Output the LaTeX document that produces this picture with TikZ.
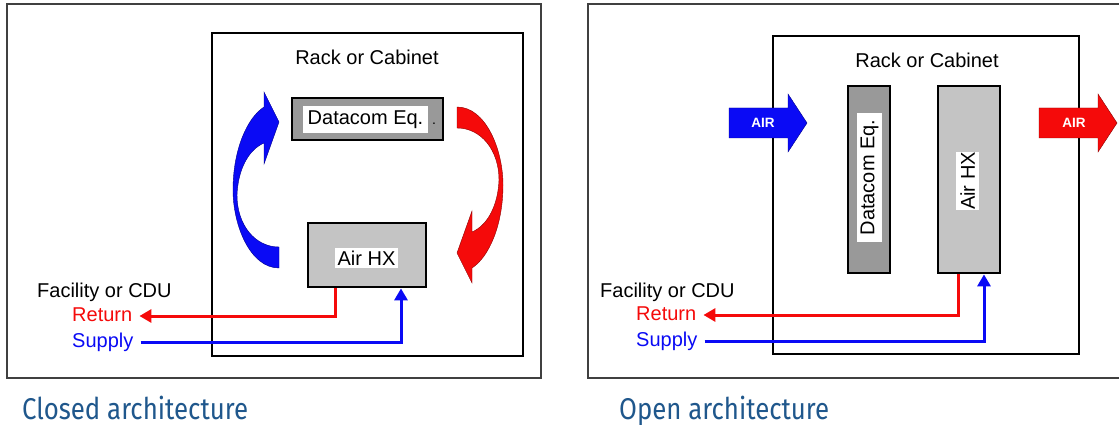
\documentclass[tikz,border=0pt]{standalone}
\usepackage{fontspec}
\setmainfont{Liberation Sans}
\newfontfamily\capfont[FakeStretch=0.86]{Fira Sans}
\usetikzlibrary{arrows.meta,calc}
\definecolor{capblue}{RGB}{31,87,140}
\definecolor{hxgray}{RGB}{196,196,196}
\definecolor{dcgray}{RGB}{153,153,153}
\definecolor{arrblue}{RGB}{10,10,245}
\definecolor{arrred}{RGB}{245,10,10}
\newcommand{\curvedarrowpath}{(279,268) .. controls (250,268) and (233,225) .. (233,190) .. controls (233,150) and (247,118) .. (264,107) -- (264,92) -- (279,122) -- (264,164) -- (264,143) .. controls (248,150) and (238,170) .. (237,195) .. controls (237,225) and (255,247) .. (279,247) -- cycle}
\begin{document}
\begin{tikzpicture}[x=1pt,y=-1pt,
  frame/.style={draw=black!75, line width=1.3pt},
  rackbox/.style={draw=black, line width=2.5pt, inner sep=0pt},
  box/.style={draw=black, line width=2.8pt, inner sep=0pt},
  lbl/.style={fill=white, inner sep=0pt, font=\fontsize{20}{22}\selectfont},
  txt/.style={inner sep=0pt, font=\fontsize{20}{22}\selectfont, text height=14.5pt, text depth=4pt, anchor=west},
  pipe/.style={line width=3pt, -{Triangle[length=12pt,width=13pt]}},
  captxt/.style={font=\capfont\fontsize{30}{32}\selectfont, text=capblue, anchor=base west, inner sep=0pt, text depth=0pt},
  airtxt/.style={font=\bfseries\fontsize{13.5}{15}\selectfont, text=white, inner sep=0pt}
]
\useasboundingbox (0,0) rectangle (1119,425);
\fill[white] (0,0) rectangle (1119,425);

% ---------------- Left panel: closed architecture
\draw[frame] (7,4) rectangle (541,378);
\node[rackbox, minimum width=311pt, minimum height=323pt] (rackL) at (367.5,194.5) {};
\node[txt, anchor=center] (rackLt) at (367,59) {Rack or Cabinet};
\node[box, fill=dcgray, minimum width=151pt, minimum height=42pt] (dcL) at (367.5,119) {};
\node[lbl, minimum width=125pt, minimum height=27pt] (dcLt) at (365.5,119.5) {Datacom Eq.};
\node[inner sep=0pt, font=\fontsize{14}{14}\selectfont] (dcLdot) at (434,124) {.};
\node[box, fill=hxgray, minimum width=118pt, minimum height=64pt] (hxL) at (367,255) {};
\node[lbl, minimum width=63pt, minimum height=20pt] (hxLt) at (366.5,258) {Air HX};

\fill[arrblue, draw=blue!55!black, line width=0.4pt] \curvedarrowpath;
\fill[arrred, draw=red!55!black, line width=0.4pt, rotate around={180:(368,187.5)}] \curvedarrowpath;

\node[txt] (facL) at (37,292) {Facility or CDU};
\node[txt, text=arrred] (retL) at (72,316) {Return};
\node[txt, text=arrblue] (supL) at (72,342) {Supply};
\draw[pipe, arrred] ([xshift=-32pt]hxL.south) |- ([xshift=7pt]retL.east);
\draw[pipe, arrblue] ([xshift=7pt]supL.east) -| ([xshift=34pt]hxL.south);

\node[captxt] (capL) at (22,419) {Closed architecture};

% ---------------- Right panel: open architecture
\draw[frame] (588,4) rectangle (1135,378);
\node[rackbox, minimum width=306pt, minimum height=318pt] (rackR) at (926,195) {};
\node[txt, anchor=center] (rackRt) at (927,62) {Rack or Cabinet};
\node[box, fill=dcgray, minimum width=42pt, minimum height=187pt] (dcR) at (869,179.5) {};
\node[lbl, rotate=90, minimum width=129pt, minimum height=25pt] (dcRt) at (869.5,177.5) {Datacom Eq.};
\node[box, fill=hxgray, minimum width=62pt, minimum height=187pt] (hxR) at (969,179.5) {};
\node[lbl, rotate=90, minimum width=58pt, minimum height=23pt] (hxRt) at (967.5,181) {Air HX};

\fill[arrblue, draw=blue!55!black, line width=0.4pt] (729,108) -- (788,108) -- (788,94) -- (807,123) -- (788,152) -- (788,138) -- (729,138) -- cycle;
\node[airtxt] (airL) at (763,123) {AIR};
\fill[arrred, draw=red!55!black, line width=0.4pt] (1039,108) -- (1098,108) -- (1098,94) -- (1117,123) -- (1098,152) -- (1098,138) -- (1039,138) -- cycle;
\node[airtxt] (airR) at (1074,123) {AIR};

\node[txt] (facR) at (600,292) {Facility or CDU};
\node[txt, text=arrred] (retR) at (636,315) {Return};
\node[txt, text=arrblue] (supR) at (636,341) {Supply};
\draw[pipe, arrred] ([xshift=-11pt]hxR.south) |- ([xshift=7pt]retR.east);
\draw[pipe, arrblue] ([xshift=7pt]supR.east) -| ([xshift=15pt]hxR.south);

\node[captxt] (capR) at (619,419) {Open architecture};
\end{tikzpicture}
\end{document}
